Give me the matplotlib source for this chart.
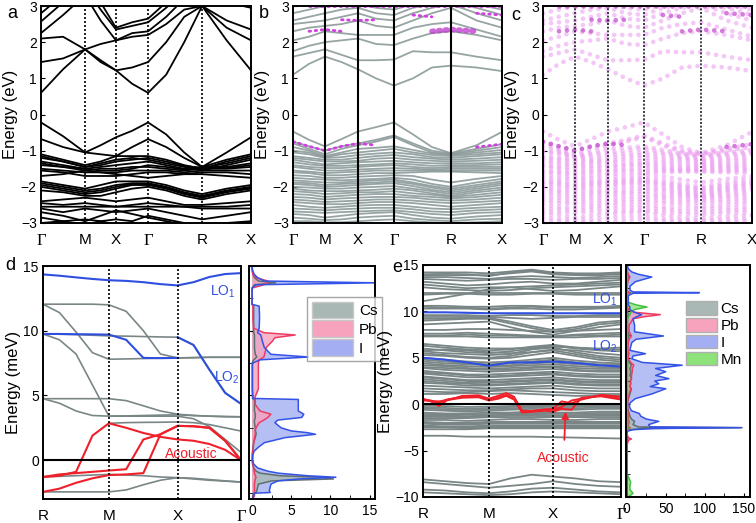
import numpy as np
import matplotlib
matplotlib.use("Agg")
import matplotlib.pyplot as plt
from matplotlib.patches import Patch

plt.rcParams['font.family'] = ['Liberation Sans', 'DejaVu Sans']
nan = np.nan

# ---------------- panel a / b / c : electronic bands ----------------
klab_abc = ['Γ', 'M', 'X', 'Γ', 'R', 'X']
hs_a = [0.0, 0.21, 0.357, 0.51, 0.767, 1.0]
hs_b = [0.0, 0.153, 0.311, 0.483, 0.756, 1.0]
kA = [0.0, 0.105, 0.21, 0.284, 0.357, 0.434, 0.51, 0.596, 0.682, 0.767, 0.884, 1.0]
kB = [0.0, 0.0765, 0.153, 0.232, 0.311, 0.397, 0.483, 0.574, 0.665, 0.756, 0.878, 1.0]

a_cb = [
    [0.60, 1.25, 1.80, 1.50, 1.22, 0.85, 0.60, 1.10, 2.00, 3.00, 2.05, 1.22],
    [1.45, 1.55, 1.80, 1.95, 2.05, 2.15, 2.20, 2.50, 2.90, 3.00, 2.60, 2.35],
    [2.10, 2.15, 1.80, 1.45, 1.22, 1.30, 1.45, 2.00, 2.70, 3.00, 2.40, 2.05],
    [2.25, 2.75, 3.30, 2.60, 2.05, 2.25, 2.30, 2.70, 3.20, 3.40, 3.10, 2.95],
    [2.57, 3.10, 3.50, 2.90, 2.35, 2.45, 2.55, 2.95, 3.40, 3.60, 3.30, 3.10],
    [2.80, 3.30, 3.60, 3.10, 2.40, 2.55, 2.65, 3.10, 3.50, 3.70, 3.40, 3.20],
]
a_vb = [
    [-0.22, -0.60, -1.05, -0.85, -0.63, -0.45, -0.22, -0.55, -1.05, -1.45, -1.05, -0.63],
    [-0.68, -0.90, -1.05, -1.10, -1.15, -0.90, -0.68, -0.90, -1.20, -1.45, -1.25, -1.10],
    [-1.10, -1.25, -1.40, -1.30, -1.15, -1.15, -1.15, -1.25, -1.40, -1.50, -1.30, -1.15],
    [-1.15, -1.30, -1.45, -1.40, -1.30, -1.25, -1.20, -1.30, -1.42, -1.48, -1.35, -1.20],
    [-1.20, -1.30, -1.45, -1.35, -1.25, -1.20, -1.25, -1.35, -1.45, -1.55, -1.40, -1.25],
    [-1.30, -1.40, -1.50, -1.45, -1.40, -1.35, -1.30, -1.40, -1.50, -1.45, -1.45, -1.35],
    [-1.35, -1.45, -1.50, -1.55, -1.55, -1.50, -1.40, -1.45, -1.52, -1.48, -1.48, -1.40],
    [-1.40, -1.45, -1.55, -1.50, -1.50, -1.45, -1.45, -1.50, -1.55, -1.50, -1.50, -1.45],
    [-1.50, -1.55, -1.60, -1.60, -1.60, -1.55, -1.55, -1.55, -1.60, -1.55, -1.55, -1.55],
    [-1.55, -1.60, -1.70, -1.70, -1.70, -1.65, -1.60, -1.60, -1.65, -1.60, -1.60, -1.65],
    [-1.70, -1.65, -1.55, -1.60, -1.65, -1.70, -1.75, -1.70, -1.65, -1.65, -1.70, -1.75],
    [-1.85, -1.95, -2.05, -1.95, -1.85, -1.85, -1.85, -1.95, -2.10, -2.20, -2.05, -1.95],
    [-1.90, -2.00, -2.10, -2.05, -1.95, -1.90, -1.90, -2.00, -2.15, -2.25, -2.10, -2.00],
    [-1.95, -2.05, -2.15, -2.10, -2.00, -1.92, -1.92, -2.02, -2.18, -2.28, -2.12, -2.02],
    [-2.00, -2.10, -2.20, -2.15, -2.05, -1.95, -1.95, -2.05, -2.20, -2.30, -2.15, -2.05],
    [-2.10, -2.15, -2.25, -2.25, -2.15, -2.05, -2.00, -2.10, -2.25, -2.35, -2.20, -2.10],
    [-2.40, -2.35, -2.30, -2.35, -2.40, -2.35, -2.30, -2.40, -2.50, -2.50, -2.45, -2.40],
    [-2.45, -2.50, -2.45, -2.50, -2.55, -2.50, -2.45, -2.50, -2.55, -2.55, -2.55, -2.50],
    [-2.55, -2.55, -2.55, -2.55, -2.55, -2.55, -2.55, -2.55, -2.55, -2.60, -2.60, -2.60],
    [-2.60, -2.70, -2.60, -2.65, -2.70, -2.65, -2.60, -2.70, -2.80, -2.90, -2.80, -2.70],
    [-2.70, -2.80, -2.95, -2.80, -2.65, -2.75, -2.85, -2.95, -3.05, -3.10, -3.00, -2.95],
    [-2.85, -2.95, -3.05, -2.95, -2.90, -2.95, -2.80, -2.90, -3.00, -3.10, -3.05, -3.00],
    [-3.00, -2.95, -2.90, -2.95, -3.05, -3.05, -3.05, -3.10, -3.15, -3.20, -3.10, -3.05],
]

b_cb = [
    [1.10, 1.40, 1.60, 1.45, 1.25, 1.00, 0.80, 1.00, 1.30, 1.35, 1.30, 1.20],
    [1.60, 1.70, 1.80, 1.65, 1.50, 1.50, 1.52, 1.75, 1.72, 1.72, 1.60, 1.50],
    [1.75, 1.90, 2.00, 2.05, 2.10, 1.95, 1.92, 2.10, 2.25, 2.30, 2.20, 2.05],
    [2.05, 2.15, 2.30, 2.25, 2.20, 2.20, 2.20, 2.40, 2.50, 2.55, 2.35, 2.15],
    [2.30, 2.40, 2.45, 2.50, 2.60, 2.45, 2.40, 2.60, 2.80, 2.95, 2.60, 2.40],
    [2.50, 2.55, 2.60, 2.70, 2.80, 2.65, 2.60, 2.80, 2.95, 3.05, 2.80, 2.60],
    [2.60, 2.70, 2.80, 2.90, 2.95, 2.80, 2.75, 2.95, 3.05, 3.10, 2.95, 2.75],
    [2.80, 2.90, 3.00, 3.00, 3.05, 2.95, 2.90, 3.05, 3.15, 3.20, 3.05, 2.90],
]
b_vb = [
    [-0.47, -0.70, -0.88, -0.68, -0.47, -0.35, -0.22, -0.55, -0.90, -1.07, -0.85, -0.48],
    [-0.75, -0.88, -1.00, -0.88, -0.80, -0.70, -0.58, -0.80, -1.00, -1.08, -0.95, -0.82],
    [-0.80, -0.95, -1.10, -0.95, -0.85, -0.75, -0.62, -0.85, -1.05, -1.10, -1.00, -0.90],
    [-0.90, -1.00, -1.15, -1.05, -0.95, -0.92, -0.88, -0.98, -1.08, -1.12, -1.05, -0.98],
    [-1.00, -1.05, -1.18, -1.10, -1.05, -1.00, -0.95, -1.05, -1.12, -1.15, -1.10, -1.05],
    [-1.05, -1.10, -1.20, -1.18, -1.12, -1.08, -1.05, -1.10, -1.18, -1.20, -1.15, -1.10],
    [-1.15, -1.20, -1.25, -1.25, -1.20, -1.15, -1.12, -1.18, -1.22, -1.25, -1.22, -1.18],
    [-1.20, -1.25, -1.30, -1.30, -1.28, -1.22, -1.20, -1.25, -1.28, -1.30, -1.28, -1.25],
    [-1.25, -1.32, -1.38, -1.35, -1.32, -1.30, -1.28, -1.32, -1.35, -1.35, -1.35, -1.32],
    [-1.32, -1.38, -1.42, -1.42, -1.40, -1.38, -1.35, -1.38, -1.42, -1.40, -1.40, -1.38],
    [-1.40, -1.45, -1.48, -1.48, -1.45, -1.42, -1.40, -1.45, -1.48, -1.45, -1.45, -1.45],
    [-1.45, -1.50, -1.55, -1.55, -1.52, -1.50, -1.48, -1.50, -1.52, -1.50, -1.50, -1.50],
    [-1.55, -1.58, -1.62, -1.60, -1.58, -1.55, -1.55, -1.55, -1.55, -1.55, -1.55, -1.55],
    [-1.60, -1.62, -1.68, -1.68, -1.65, -1.62, -1.62, -1.60, -1.58, -1.58, -1.60, -1.62],
    [-1.68, -1.70, -1.75, -1.75, -1.72, -1.70, -1.68, -1.70, -1.80, -1.88, -1.78, -1.70],
    [-1.75, -1.78, -1.80, -1.82, -1.80, -1.78, -1.75, -1.80, -1.92, -2.00, -1.88, -1.78],
    [-1.82, -1.85, -1.88, -1.88, -1.85, -1.82, -1.80, -1.88, -1.98, -2.05, -1.95, -1.85],
    [-1.88, -1.90, -1.95, -1.92, -1.90, -1.88, -1.85, -1.92, -2.02, -2.10, -2.00, -1.90],
    [-1.92, -1.95, -2.00, -1.98, -1.95, -1.92, -1.90, -1.98, -2.08, -2.15, -2.05, -1.95],
    [-2.00, -2.02, -2.05, -2.05, -2.02, -2.00, -1.98, -2.05, -2.12, -2.20, -2.10, -2.02],
    [-2.05, -2.10, -2.12, -2.12, -2.10, -2.08, -2.05, -2.10, -2.18, -2.25, -2.15, -2.08],
    [-2.12, -2.15, -2.20, -2.18, -2.15, -2.15, -2.12, -2.18, -2.22, -2.28, -2.22, -2.15],
    [-2.20, -2.22, -2.28, -2.25, -2.22, -2.20, -2.20, -2.25, -2.28, -2.32, -2.28, -2.22],
    [-2.28, -2.30, -2.35, -2.32, -2.30, -2.28, -2.28, -2.30, -2.35, -2.38, -2.35, -2.30],
    [-2.35, -2.38, -2.42, -2.40, -2.38, -2.35, -2.35, -2.38, -2.42, -2.45, -2.42, -2.38],
    [-2.42, -2.45, -2.48, -2.48, -2.45, -2.42, -2.42, -2.45, -2.50, -2.55, -2.50, -2.45],
    [-2.50, -2.55, -2.58, -2.55, -2.52, -2.50, -2.50, -2.55, -2.60, -2.62, -2.58, -2.55],
    [-2.60, -2.62, -2.65, -2.62, -2.60, -2.58, -2.58, -2.62, -2.68, -2.70, -2.65, -2.62],
    [-2.68, -2.70, -2.72, -2.70, -2.68, -2.66, -2.65, -2.70, -2.75, -2.78, -2.72, -2.70],
    [-2.75, -2.78, -2.85, -2.80, -2.75, -2.72, -2.70, -2.78, -2.85, -2.88, -2.82, -2.78],
    [-2.85, -2.88, -2.92, -2.90, -2.85, -2.82, -2.80, -2.88, -2.92, -2.95, -2.90, -2.88],
    [-2.95, -2.95, -2.98, -2.98, -2.95, -2.92, -2.90, -2.95, -2.98, -3.00, -2.98, -2.95],
]
# Mn-weighted pieces (magenta dots)
b_mn = [
    [-0.75, -0.88, -1.00, -0.88, -0.80, -0.85, nan, nan, nan, nan, -0.90, -0.82],
    [nan, 2.30, 2.35, 2.30, nan, nan, nan, nan, nan, nan, nan, nan],
    [nan, nan, nan, 2.62, 2.60, 2.62, nan, nan, nan, nan, nan, nan],
    [nan, nan, nan, nan, nan, nan, nan, 2.75, 2.70, nan, 2.80, 2.75],
    [nan, 3.0, 3.0, 3.0, 3.0, 3.0, 3.0, 3.0, 3.0, 3.0, 3.0, 3.0],
]
b_mn_big = [nan, nan, nan, nan, nan, nan, nan, nan, 2.30, 2.35, 2.30, nan]

# ---------------- panel d : CsPbI3 phonons ----------------
klab_de = ['R', 'M', 'X', 'Γ']
hs_de_d = [0.0, 0.333, 0.68, 1.0]
kD = [0.0, 0.083, 0.167, 0.25, 0.333, 0.42, 0.507, 0.593, 0.68, 0.76, 0.84, 0.92, 1.0]
d_grey = [
    [12.05, 12.05, 12.05, 12.05, 12.0, 11.5, 10.0, 8.2, 7.9, 7.92, 7.95, 7.95, 7.95],
    [12.05, 11.4, 9.9, 8.3, 7.8, 7.82, 7.85, 7.88, 7.9, 7.92, 7.95, 7.95, 7.95],
    [9.75, 9.3, 8.2, 5.8, 3.4, 3.42, 3.45, 3.48, 3.5, 3.45, 3.4, 3.38, 3.35],
    [9.75, 9.73, 9.7, 9.65, 9.6, 9.58, 9.55, 9.52, 9.5, 8.9, 7.0, 5.2, 4.35],
    [4.75, 4.75, 4.75, 4.75, 4.75, 4.6, 4.2, 3.8, 3.55, 3.45, 3.4, 3.35, 3.35],
    [4.75, 4.4, 3.8, 3.45, 3.4, 3.4, 3.4, 3.4, 3.4, 3.2, 2.6, 1.6, 0.6],
    [nan, nan, nan, nan, 2.85, 2.9, 2.92, 2.93, 2.95, 2.9, 2.75, 2.5, 2.25],
    [-1.3, -1.25, -1.2, -1.15, -1.1, -1.15, -1.2, -1.3, -1.35, -1.45, -1.55, -1.62, -1.68],
    [-2.45, -2.45, -2.45, -2.45, -2.45, -2.3, -1.9, -1.55, -1.35, -1.4, -1.5, -1.6, -1.7],
]
d_lo1 = [14.35, 14.25, 14.12, 14.0, 13.9, 13.85, 13.75, 13.6, 13.5, 13.75, 14.15, 14.38, 14.45]
d_blue2 = [9.75, 9.75, 9.73, 9.72, 9.7, 9.3, 7.9, 7.88, 7.9, nan, nan, nan, nan]
d_lo2 = [nan, nan, nan, nan, nan, nan, nan, nan, 9.5, 8.9, 7.0, 5.2, 4.35]
d_red = [
    [-1.3, -1.2, -0.9, 1.9, 2.85, 2.5, 2.1, 1.8, 1.6, 1.5, 1.25, 0.8, 0.0],
    [-2.45, -2.2, -1.75, -1.4, -1.15, -1.1, -1.0, 2.0, 2.65, 2.62, 2.5, 1.5, 0.0],
    [-1.3, -1.1, -1.0, -0.9, -0.8, -0.7, 1.6, 2.0, 2.65, 2.62, 2.5, 1.5, 0.0],
]

# ---------------- panel e : Mn-doped phonons ----------------
hs_de_e = [0.0, 0.333, 0.657, 1.0]
kE = [0.0, 0.111, 0.222, 0.333, 0.441, 0.549, 0.657, 0.771, 0.886, 1.0]
e_grey = [
    [14.2, 14.2, 14.2, 14.1, 14.3, 14.5, 14.2, 14.1, 14.1, 14.2],
    [14.0, 14.05, 14.0, 13.8, 14.2, 14.4, 14.1, 14.0, 14.0, 14.1],
    [13.9, 13.9, 13.9, 13.9, 14.1, 14.3, 14.0, 13.9, 13.9, 14.0],
    [13.7, 13.7, 13.6, 13.5, 13.7, 13.8, 13.7, 13.6, 13.7, 13.8],
    [13.5, 13.4, 13.3, 13.4, 13.5, 13.5, 13.4, 13.5, 13.5, 13.6],
    [13.2, 13.0, 12.8, 12.9, 13.1, 13.2, 13.0, 13.0, 13.2, 13.4],
    [12.9, 12.7, 12.5, 12.6, 12.6, 12.7, 12.8, 12.9, 13.0, 13.1],
    [12.6, 12.4, 12.3, 12.2, 12.3, 12.5, 12.6, 12.7, 12.8, 12.9],
    [12.0, 12.0, 12.0, 12.0, 12.0, 12.0, 12.0, 12.0, 12.0, 12.0],
    [11.8, 11.9, 11.9, 11.8, 11.8, 11.9, 11.9, 11.8, 11.8, 11.8],
    [11.1, 11.5, 11.9, 12.4, 12.6, 12.4, 12.2, 12.3, 12.5, 12.7],
    [10.6, 10.6, 10.5, 10.5, 10.6, 10.6, 10.5, 10.5, 10.5, 10.6],
    [10.5, 10.4, 10.4, 10.3, 10.4, 10.5, 10.4, 10.4, 10.4, 10.5],
    [10.3, 10.3, 10.3, 10.2, 10.3, 10.3, 10.2, 10.2, 10.3, 10.4],
    [9.6, 9.6, 9.6, 9.5, 9.6, 9.6, 9.5, 9.5, 9.6, 9.6],
    [9.4, 9.4, 9.4, 9.4, 9.3, 9.2, 9.3, 9.4, 9.4, 9.4],
    [9.2, 9.2, 9.3, 9.3, 8.9, 8.4, 8.0, 8.3, 8.8, 9.0],
    [9.0, 9.1, 9.2, 9.2, 8.7, 8.2, 7.8, 8.1, 8.6, 8.8],
    [8.6, 8.7, 8.8, 8.9, 8.3, 7.8, 7.5, 7.9, 8.3, 8.6],
    [8.0, 8.0, 8.1, 8.1, 8.0, 7.9, 7.8, 7.9, 8.0, 8.1],
    [7.6, 7.6, 7.7, 7.6, 7.5, 7.4, 7.3, 7.5, 7.6, 7.7],
    [7.4, 7.4, 7.5, 7.4, 7.4, 7.3, 7.3, 7.4, 7.4, 7.5],
    [7.3, 7.3, 7.3, 7.2, 7.2, 7.2, 7.2, 7.2, 7.3, 7.3],
    [6.5, 6.3, 6.1, 6.0, 6.0, 6.1, 6.2, 6.1, 6.0, 6.1],
    [6.3, 6.1, 5.9, 5.8, 5.9, 6.2, 6.4, 6.1, 5.9, 5.9],
    [6.0, 5.8, 5.6, 5.5, 5.7, 6.0, 6.3, 6.0, 5.8, 5.7],
    [5.8, 5.9, 5.8, 5.6, 5.5, 5.6, 5.9, 5.8, 5.5, 5.3],
    [5.7, 5.5, 5.4, 5.3, 5.4, 5.9, 6.1, 5.6, 5.2, 5.0],
    [5.5, 5.3, 5.1, 5.0, 5.2, 5.6, 5.8, 5.4, 5.0, 4.8],
    [5.3, 5.2, 5.0, 4.9, 5.0, 5.3, 5.6, 5.2, 4.8, 4.6],
    [5.0, 4.8, 4.6, 4.5, 4.6, 4.8, 5.0, 4.7, 4.5, 4.4],
    [4.8, 4.6, 4.4, 4.3, 4.4, 4.6, 4.8, 4.5, 4.3, 4.3],
    [4.6, 4.4, 4.3, 4.2, 4.2, 4.4, 4.5, 4.3, 4.2, 4.1],
    [4.4, 4.2, 4.1, 4.0, 4.1, 4.2, 4.3, 4.1, 4.0, 3.9],
    [4.2, 4.1, 3.9, 3.8, 3.9, 4.0, 4.1, 3.9, 3.8, 3.8],
    [4.0, 3.9, 3.8, 3.7, 3.7, 3.9, 4.0, 3.7, 3.6, 3.6],
    [3.9, 3.7, 3.6, 3.5, 3.6, 3.7, 3.8, 3.6, 3.5, 3.5],
    [3.6, 3.4, 3.2, 3.2, 3.3, 3.4, 3.5, 3.3, 3.2, 3.2],
    [3.4, 3.3, 3.1, 3.0, 3.1, 3.3, 3.3, 3.1, 3.0, 3.0],
    [3.3, 3.1, 2.9, 2.9, 3.0, 3.1, 3.2, 3.0, 2.9, 2.9],
    [3.0, 2.8, 2.6, 2.6, 2.7, 2.8, 2.9, 2.7, 2.6, 2.6],
    [2.9, 2.7, 2.5, 2.4, 2.5, 2.6, 2.7, 2.5, 2.4, 2.4],
    [2.7, 2.5, 2.3, 2.3, 2.4, 2.5, 2.6, 2.4, 2.3, 2.3],
    [2.5, 2.3, 2.2, 2.1, 2.2, 2.3, 2.4, 2.2, 2.1, 2.1],
    [2.3, 2.2, 2.0, 2.0, 2.1, 2.2, 2.3, 2.1, 2.0, 2.0],
    [2.0, 1.9, 1.8, 1.7, 1.8, 1.9, 2.0, 1.8, 1.7, 1.7],
    [1.7, 1.6, 1.5, 1.5, 1.6, 1.7, 1.7, 1.5, 1.4, 1.4],
    [1.4, 1.3, 1.3, 1.4, 1.5, 1.4, 1.3, 1.2, 1.1, 1.1],
    [1.1, 1.1, 1.2, 1.1, 1.2, 1.1, 1.0, 0.9, 0.9, 0.9],
    [-0.15, -0.2, -0.3, -0.25, -0.2, -0.1, -0.15, -0.1, -0.1, -0.1],
    [-0.3, -0.4, -0.5, -0.4, -0.3, -0.2, -0.3, -0.3, -0.2, -0.2],
    [-0.45, -0.55, -0.65, -0.55, -0.45, -0.35, -0.45, -0.45, -0.35, -0.35],
    [-0.6, -0.7, -0.8, -0.7, -0.6, -0.5, -0.6, -0.6, -0.5, -0.5],
    [-0.9, -1.0, -1.0, -0.9, -0.9, -0.8, -0.9, -0.9, -0.8, -0.8],
    [-1.05, -1.1, -1.15, -1.05, -1.0, -0.95, -1.05, -1.05, -0.95, -0.95],
    [-1.2, -1.2, -1.3, -1.2, -1.1, -1.1, -1.2, -1.2, -1.1, -1.1],
    [-1.35, -1.35, -1.4, -1.3, -1.25, -1.25, -1.3, -1.3, -1.25, -1.25],
    [-1.5, -1.5, -1.5, -1.4, -1.4, -1.4, -1.4, -1.4, -1.4, -1.4],
    [-1.7, -1.7, -1.8, -1.7, -1.6, -1.6, -1.7, -1.7, -1.6, -1.6],
    [-1.9, -2.0, -2.0, -1.9, -1.9, -1.9, -1.9, -1.9, -1.9, -1.9],
    [-2.0, -2.1, -2.1, -2.0, -2.0, -2.0, -2.0, -2.0, -2.0, -2.0],
    [-2.1, -2.2, -2.2, -2.1, -2.1, -2.1, -2.1, -2.1, -2.1, -2.1],
    [-2.3, -2.4, -2.4, -2.3, -2.3, -2.3, -2.3, -2.3, -2.3, -2.3],
    [-2.4, -2.45, -2.5, -2.4, -2.4, -2.4, -2.4, -2.4, -2.4, -2.4],
    [-2.5, -2.5, -2.6, -2.5, -2.5, -2.5, -2.5, -2.5, -2.5, -2.5],
    [-2.7, -2.7, -2.7, -2.6, -2.6, -2.6, -2.6, -2.6, -2.6, -2.6],
    [-3.4, -3.4, -3.5, -3.5, -3.5, -3.5, -3.55, -3.6, -3.65, -3.7],
    [-8.1, -8.3, -8.5, -8.6, -8.0, -7.6, -7.8, -8.0, -8.3, -8.4],
    [-8.4, -8.6, -8.8, -9.0, -8.8, -8.6, -8.3, -8.6, -8.8, -8.9],
    [-9.2, -9.3, -9.5, -9.6, -9.4, -9.1, -9.0, -9.2, -9.4, -9.5],
    [-9.5, -9.6, -9.7, -9.8, -9.7, -9.5, -9.4, -9.5, -9.6, -9.7],
]
e_lo1 = [9.9, 9.9, 9.85, 9.8, 9.8, 9.8, 9.8, 9.8, 9.8, 9.8]
e_lo2 = [5.0, 4.8, 4.5, 4.15, 4.5, 4.5, 4.6, 4.45, 4.2, 4.05]
k_ac = [0, 0.04, 0.08, 0.12, 0.2, 0.28, 0.333, 0.38, 0.42, 0.46, 0.5, 0.56, 0.62,
        0.657, 0.7, 0.75, 0.8, 0.9, 1.0]
e_red = [
    [0.6, 0.3, -0.2, 0.4, 0.9, 0.95, 0.6, 0.9, 1.2, 0.8, -0.7, -0.75, -0.6, -0.5, 0.3, 0.1, 0.5, 1.0, 0.8],
    [0.5, 0.4, 0.1, 0.5, 0.8, 0.85, 0.45, 0.7, 1.0, 0.6, -0.8, -0.7, -0.55, -0.6, -0.3, 0.4, 0.6, 0.95, 0.6],
    [0.4, 0.35, 0.3, 0.45, 0.7, 0.75, 0.4, 0.6, 0.9, 0.5, -0.9, -0.8, -0.7, -0.8, -0.5, -0.6, 0.7, 0.85, 0.5],
]

# ---------------- DOS d ----------------
e_d = [-3.0, -2.75, -2.55, -2.5, -2.35, -1.85, -1.6, -1.45, -1.32, -1.2,
       -1.0, -0.85, -0.6, -0.3, 0.0, 0.4, 0.7, 1.0, 1.35, 1.74,
       2.0, 2.13, 2.26, 2.5, 2.9, 3.1, 3.3, 3.55, 3.8, 4.3,
       4.69, 4.77, 5.5, 6.5, 7.5, 7.75, 7.97, 8.18, 8.7, 9.2,
       9.46, 9.67, 9.85, 10.2, 11.0, 11.9, 12.04, 12.5, 13.3, 13.55,
       13.7, 13.84, 14.1, 14.36, 14.7, 15.0]
dos_d_I = [0.05, 0.2, 0.3, 2.3, 2.2, 2.4, 3.3, 6.0, 10.7, 7.0,
           3.3, 2.0, 0.7, 0.2, 0.05, 0.1, 0.26, 0.8, 1.56, 4.2,
           8.1, 7.0, 5.0, 3.7, 2.9, 3.3, 6.35, 6.6, 5.9, 5.9,
           5.9, 0.1, 0.05, 0.05, 0.05, 1.0, 7.2, 2.4, 1.56, 1.3,
           1.2, 1.1, 0.7, 0.9, 0.95, 0.9, 0.0, 0.0, 0.0, 0.5,
           15.9, 1.56, 0.7, 0.26, 0.05, 0.0]
dos_d_Pb = [0.1, 0.3, 0.3, 0.3, 0.3, 0.3, 0.35, 0.4, 0.5, 0.4,
            0.3, 0.25, 0.2, 0.1, 0.05, 0.05, 0.1, 0.15, 0.2, 0.3,
            0.4, 0.4, 0.4, 0.5, 0.9, 1.5, 2.0, 2.4, 1.0, 0.4,
            0.4, 0.3, 0.8, 0.8, 0.8, 0.9, 1.5, 1.6, 1.8, 2.6,
            2.9, 5.5, 1.5, 0.2, 0.1, 0.1, 0.0, 0.0, 0.0, 1.5,
            2.0, 2.0, 0.5, 0.1, 0.0, 0.0]
dos_d_Cs = [0.05, 0.1, 0.2, 0.5, 0.6, 0.8, 2.5, 10.4, 9.0, 3.5,
            1.0, 0.5, 0.2, 0.05, 0.0, 0.0, 0.05, 0.1, 0.2, 0.4,
            0.5, 0.5, 0.4, 0.4, 0.3, 0.3, 0.4, 0.4, 0.3, 0.3,
            0.3, 0.05, 0.0, 0.0, 0.0, 0.2, 0.6, 0.4, 0.3, 0.3,
            0.3, 0.3, 0.2, 0.2, 0.2, 0.2, 0.0, 0.0, 0.0, 0.3,
            3.0, 0.8, 0.3, 0.1, 0.0, 0.0]

# ---------------- DOS e ----------------
e_e = [-10.0, -9.6, -9.2, -8.8, -8.4, -8.0, -7.5, -4.5, -3.9, -3.75,
       -3.6, -3.2, -2.9, -2.75, -2.62, -2.53, -2.45, -2.2, -1.85, -1.6,
       -1.3, -1.0, -0.7, -0.4, 0.0, 0.2, 0.6, 1.1, 1.67, 1.9,
       2.2, 2.5, 2.75, 3.1, 3.5, 3.85, 4.2, 4.5, 4.9, 5.2,
       5.44, 5.8, 6.2, 6.65, 7.0, 7.35, 7.8, 8.5, 9.2, 9.4,
       9.65, 9.9, 10.2, 10.47, 10.7, 11.0, 11.7, 11.95, 12.02, 12.1,
       12.3, 12.7, 13.2, 13.7, 14.0, 14.25, 14.6, 15.0]
dos_e_I = [0.2, 0.3, 0.3, 0.3, 0.3, 0.3, 0.1, 0.0, 0.5, 1.0,
           0.5, 0.0, 1.0, 8.0, 35, 146, 30, 28, 41, 25,
           18, 16, 6, 4, 3, 5, 11, 32, 50, 30,
           41, 36, 54, 37, 50, 37, 71, 20, 6.5, 8,
           24, 4, 5, 6.5, 12, 47, 10, 10, 8, 12,
           19, 10, 4, 4, 2, 2, 2, 8, 93, 8,
           4, 4, 11, 32, 15, 6.5, 2, 0.5]
dos_e_Cs = [0.1, 0.1, 0.1, 0.1, 0.1, 0.1, 0.1, 0, 0, 0,
            0, 0, 0.5, 4, 20, 148, 15, 8, 10, 6,
            4, 3, 2, 1, 1, 1, 2, 4, 6, 4,
            5, 4, 6, 4, 5, 4, 6, 3, 1, 1,
            2, 1, 1, 1, 1, 3, 1, 1, 1, 1,
            2, 1, 0.5, 0.5, 0.5, 0.5, 0.5, 1, 5, 1,
            0.5, 0.5, 1, 3, 1, 0.5, 0.2, 0]
dos_e_Pb = [0, 0, 0, 0, 0, 0, 0, 0, 2, 6,
            2, 0, 0.5, 1, 2, 4, 2, 2, 3, 2,
            2, 1.5, 1, 1, 1, 1, 1.5, 3, 5, 4,
            5, 5, 6, 6, 7, 7, 9, 5, 2, 2,
            3, 1.5, 1.5, 2, 3, 6, 3, 3, 8, 20,
            43, 10, 2, 1, 1, 0.5, 0.5, 1, 3, 1,
            0.5, 0.5, 1, 4, 2, 1, 0.5, 0]
dos_e_Mn = [2, 8, 4, 4, 5, 3, 0, 0, 0, 0,
            0, 0, 0.3, 0.5, 1, 2, 1, 1, 1, 1,
            1, 0.5, 0.5, 0.5, 0.5, 0.5, 0.5, 1, 1, 1,
            1, 1, 1, 1, 1, 1, 1.5, 1, 0.5, 0.5,
            0.5, 0.5, 0.5, 0.5, 0.5, 1, 0.5, 0.5, 1, 2,
            4, 5, 10, 26, 12, 1, 0.3, 0.3, 0.5, 0.3,
            0.2, 0.2, 0.3, 0.5, 0.3, 0.2, 0, 0]

species_col = {
    'Cs': ('#a9b8b4', '#5f6e6e'),
    'Pb': ('#f7a3bd', '#ee3b62'),
    'I': ('#a3aff2', '#3352e8'),
    'Mn': ('#8ee27a', '#42c042'),
}
BLUE = '#2f4fe0'
RED = '#f0202a'
GREY = '#7a8686'


def set_klabels(ax, pos, labels):
    ax.set_xticks(pos)
    ax.set_xticklabels(labels)
    ax.tick_params(axis='x', length=0, pad=7, labelsize=11)
    for t in ax.get_xticklabels():
        if t.get_text() == 'Γ':
            t.set_family('Liberation Serif')
            t.set_fontsize(12)


def style_box(ax):
    for s in ax.spines.values():
        s.set_linewidth(1.4)
    ax.tick_params(axis='y', direction='in', length=3, labelsize=10, pad=3)


fig = plt.figure(figsize=(7.56, 5.23), dpi=100)
W, H = 756, 523


def add_ax(l, t, r, b):
    return fig.add_axes([l / W, 1 - b / H, (r - l) / W, (b - t) / H])


# ---- a ----
ax = add_ax(41, 6, 251, 223)
for band in a_cb + a_vb:
    ax.plot(kA, band, color='black', lw=1.3)
for x in hs_a[1:-1]:
    ax.axvline(x, color='black', lw=1.2, ls=(0, (1.2, 1.2)))
ax.set_xlim(0, 1)
ax.set_ylim(-3, 3)
ax.set_yticks(range(-3, 4))
set_klabels(ax, hs_a, klab_abc)
style_box(ax)
ax.set_ylabel('Energy (eV)', fontsize=12, labelpad=2)
fig.text(7 / W, 1 - 14 / H, 'a', fontsize=13, va='center')

# ---- b ----
ax = add_ax(293, 6, 502, 223)
for band in b_cb + b_vb:
    ax.plot(kB, band, color='#8c9a9a', lw=1.3, alpha=0.9)
for band in b_mn:
    ax.plot(kB, band, color='#d040e0', lw=2.0, ls=(0, (0.6, 1.6)), dash_capstyle='round')
ax.plot(kB, b_mn_big, color='#c040d0', lw=4.0, ls=(0, (0.3, 0.9)), dash_capstyle='round', alpha=0.8)
for x in hs_b[1:-1]:
    ax.axvline(x, color='black', lw=1.5)
ax.set_xlim(0, 1)
ax.set_ylim(-3, 3)
ax.set_yticks(range(-3, 4))
set_klabels(ax, hs_b, klab_abc)
style_box(ax)
ax.set_ylabel('Energy (eV)', fontsize=12, labelpad=2)
fig.text(259 / W, 1 - 14 / H, 'b', fontsize=13, va='center')

# ---- c ----
ax = add_ax(543, 6, 752, 223)
for band in b_cb + b_vb:
    ax.plot(kB, band, color='#eb9cf0', lw=3.4, ls=(0, (0.01, 1.7)),
            dash_capstyle='round', alpha=0.55)
for band in b_mn + [b_mn_big]:
    ax.plot(kB, band, color='#c248cc', lw=3.4, ls=(0, (0.01, 1.7)),
            dash_capstyle='round', alpha=0.7)
for x in hs_b[1:-1]:
    ax.axvline(x, color='#202030', lw=1.2, ls=(0, (1.2, 1.0)))
ax.set_xlim(0, 1)
ax.set_ylim(-3, 3)
ax.set_yticks(range(-3, 4))
set_klabels(ax, hs_b, klab_abc)
style_box(ax)
ax.set_ylabel('Energy (eV)', fontsize=12, labelpad=2)
fig.text(511 / W, 1 - 15 / H, 'c', fontsize=13, va='center')

# ---- d ----
ax = add_ax(43, 266, 241, 499)
for band in d_grey:
    ax.plot(kD, band, color=GREY, lw=1.2)
ax.plot(kD, d_lo1, color=BLUE, lw=1.5)
ax.plot(kD, d_blue2, color=BLUE, lw=1.5)
ax.plot(kD, d_lo2, color=BLUE, lw=1.5)
for band in d_red:
    ax.plot(kD, band, color=RED, lw=1.5)
for x in hs_de_d[1:-1]:
    ax.axvline(x, color='black', lw=1.2, ls=(0, (1.2, 1.2)))
ax.axhline(0, color='black', lw=1.5)
ax.set_xlim(0, 1)
ax.set_ylim(-3, 15)
ax.set_yticks([0, 5, 10, 15])
set_klabels(ax, hs_de_d, klab_de)
style_box(ax)
ax.set_ylabel('Energy (meV)', fontsize=12, labelpad=2)
ax.text(0.91, 13.0, r'$\mathregular{LO_1}$', color=BLUE, fontsize=10, ha='center', va='center')
ax.text(0.93, 6.4, r'$\mathregular{LO_2}$', color=BLUE, fontsize=10, ha='center', va='center')
ax.text(0.75, 0.5, 'Acoustic', color=RED, fontsize=10, ha='center', va='center')
fig.text(5 / W, 1 - 266 / H, 'd', fontsize=13, va='center')

# DOS d
ax = add_ax(249, 266, 375, 499)
for sp, vals in [('I', dos_d_I), ('Cs', dos_d_Cs), ('Pb', dos_d_Pb)]:
    ax.fill_betweenx(e_d, 0, vals, facecolor=species_col[sp][0], alpha=0.8, lw=0)
for sp, vals in [('Cs', dos_d_Cs), ('Pb', dos_d_Pb), ('I', dos_d_I)]:
    ax.plot(vals, e_d, color=species_col[sp][1], lw=1.1)
ax.set_ylim(-3, 15)
ax.set_xlim(-0.4, 15.7)
ax.set_xticks([0, 5, 10, 15])
ax.set_xticks([2.5, 7.5, 12.5], minor=True)
ax.set_yticks([0, 5, 10, 15])
ax.set_yticks([-2.5, 2.5, 7.5, 12.5], minor=True)
ax.tick_params(axis='y', which='both', direction='in', labelleft=False, length=3)
ax.tick_params(axis='x', which='both', direction='in', length=3, labelsize=10)
for s in ax.spines.values():
    s.set_linewidth(1.4)
hd = [Patch(facecolor=species_col[s][0], edgecolor='#c8c8c8', label=s) for s in ['Cs', 'Pb', 'I']]
leg = ax.legend(handles=hd, loc='upper left', bbox_to_anchor=(0.4, 0.9), fontsize=11,
                handlelength=2.7, handleheight=1.3, labelspacing=0.15, handletextpad=0.4,
                borderpad=0.3, frameon=True, fancybox=False, edgecolor='#909090')
leg.get_frame().set_linewidth(1.0)

# ---- e ----
ax = add_ax(423, 265, 621, 497)
for band in e_grey:
    ax.plot(kE, band, color=GREY, lw=1.3)
ax.plot(kE, e_lo1, color=BLUE, lw=1.5)
ax.plot(kE, e_lo2, color=BLUE, lw=1.5)
for band in e_red:
    ax.plot(k_ac, band, color=RED, lw=1.4)
for x in hs_de_e[1:-1]:
    ax.axvline(x, color='black', lw=1.2, ls=(0, (1.2, 1.2)))
ax.axhline(0, color='black', lw=1.5)
ax.set_xlim(0, 1)
ax.set_ylim(-10, 15)
ax.set_yticks([-10, -5, 0, 5, 10, 15])
set_klabels(ax, hs_de_e, klab_de)
style_box(ax)
ax.set_ylabel('Energy (meV)', fontsize=12, labelpad=2)
ax.text(0.92, 11.2, r'$\mathregular{LO_1}$', color=BLUE, fontsize=10, ha='center', va='center')
ax.text(0.92, 6.2, r'$\mathregular{LO_2}$', color=BLUE, fontsize=10, ha='center', va='center')
ax.annotate('Acoustic', xy=(0.72, -0.8), xytext=(0.71, -5.8), color=RED, fontsize=10,
            ha='center', va='center',
            arrowprops=dict(arrowstyle='-|>', color=RED, lw=1.3, shrinkA=6, shrinkB=0))
fig.text(392 / W, 1 - 267 / H, 'e', fontsize=13, va='center')

# DOS e
ax = add_ax(626, 265, 750, 497)
for sp, vals in [('I', dos_e_I), ('Cs', dos_e_Cs), ('Pb', dos_e_Pb), ('Mn', dos_e_Mn)]:
    ax.fill_betweenx(e_e, 0, vals, facecolor=species_col[sp][0], alpha=0.8, lw=0)
for sp, vals in [('Cs', dos_e_Cs), ('Pb', dos_e_Pb), ('Mn', dos_e_Mn), ('I', dos_e_I)]:
    ax.plot(vals, e_e, color=species_col[sp][1], lw=1.1)
ax.set_ylim(-10, 15)
ax.set_xlim(-1, 158)
ax.set_xticks([0, 50, 100, 150])
ax.set_xticks([25, 75, 125], minor=True)
ax.set_yticks([-10, -5, 0, 5, 10, 15])
ax.set_yticks([-7.5, -2.5, 2.5, 7.5, 12.5], minor=True)
ax.tick_params(axis='y', which='both', direction='in', labelleft=False, length=3)
ax.tick_params(axis='x', which='both', direction='in', length=3, labelsize=10)
for s in ax.spines.values():
    s.set_linewidth(1.4)
he = [Patch(facecolor=species_col[s][0], edgecolor='#b0b0b0', label=s) for s in ['Cs', 'Pb', 'I', 'Mn']]
ax.legend(handles=he, loc='upper left', bbox_to_anchor=(0.484, 0.845), fontsize=11,
          handlelength=2.0, handleheight=1.0, labelspacing=0.12, handletextpad=0.25,
          borderpad=0.0, borderaxespad=0.0, frameon=False)

fig.savefig('out.png', dpi=100)
